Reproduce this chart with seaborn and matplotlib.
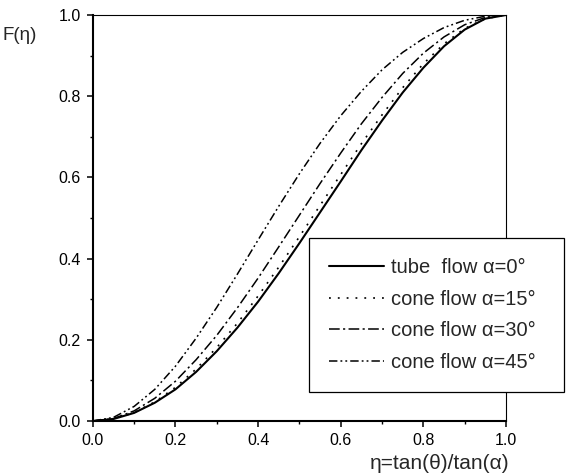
import pandas as pd
import seaborn as sns
import matplotlib
matplotlib.use("Agg")
import matplotlib.pyplot as plt
from matplotlib.ticker import MultipleLocator

# values, eta = 0 .. 1 in steps of 0.05
eta = [0.0, 0.05, 0.1, 0.15, 0.2, 0.25, 0.3, 0.35, 0.4, 0.45, 0.5,
       0.55, 0.6, 0.65, 0.7, 0.75, 0.8, 0.85, 0.9, 0.95, 1.0]
f_tube = [0.0, 0.005, 0.020, 0.045, 0.078, 0.121, 0.172, 0.230, 0.294, 0.364, 0.438,
          0.514, 0.590, 0.667, 0.740, 0.809, 0.870, 0.923, 0.964, 0.991, 1.0]
f_cone15 = [0.0, 0.005, 0.021, 0.047, 0.083, 0.128, 0.181, 0.241, 0.308, 0.379, 0.454,
            0.531, 0.607, 0.683, 0.754, 0.821, 0.880, 0.929, 0.967, 0.991, 1.0]
f_cone30 = [0.0, 0.006, 0.025, 0.056, 0.098, 0.151, 0.211, 0.279, 0.352, 0.429, 0.507,
            0.585, 0.660, 0.732, 0.797, 0.856, 0.906, 0.946, 0.976, 0.994, 1.0]
f_cone45 = [0.0, 0.009, 0.036, 0.078, 0.135, 0.204, 0.280, 0.362, 0.446, 0.529, 0.609,
            0.684, 0.752, 0.812, 0.865, 0.908, 0.942, 0.969, 0.987, 0.997, 1.0]
labels = ["tube  flow α=0°", "cone flow α=15°", "cone flow α=30°", "cone flow α=45°"]

sns.set_theme(style="ticks")
plt.rcParams["font.family"] = ["Liberation Sans", "DejaVu Sans"]

df = pd.DataFrame({"eta": eta, labels[0]: f_tube, labels[1]: f_cone15,
                   labels[2]: f_cone30, labels[3]: f_cone45})

fig = plt.figure(figsize=(5.66, 4.76), dpi=100)
ax = fig.add_axes([0.164, 0.1155, 0.730, 0.853])

styles = ["-", (0, (1.1, 4.2)), (0, (7, 2.2, 1.4, 2.2)), (0, (5.5, 2, 1.2, 2, 1.2, 2))]
widths = [1.5, 1.2, 1.1, 1.1]
for lab, ls, lw in zip(labels, styles, widths):
    sns.lineplot(data=df, x="eta", y=lab, ax=ax, color="black",
                 linestyle=ls, linewidth=lw, label=lab)

ax.set_xlim(0, 1)
ax.set_ylim(0, 1)
ax.xaxis.set_major_locator(MultipleLocator(0.2))
ax.xaxis.set_minor_locator(MultipleLocator(0.1))
ax.yaxis.set_major_locator(MultipleLocator(0.2))
ax.yaxis.set_minor_locator(MultipleLocator(0.1))
ax.set_xticklabels([f"{v:.1f}" for v in ax.get_xticks()])
ax.set_yticklabels([f"{v:.1f}" for v in ax.get_yticks()])
ax.tick_params(which="major", direction="out", length=4.3, width=1.1,
               labelsize=11.5, color="black", labelcolor="black", pad=4.5)
ax.tick_params(which="minor", direction="out", length=2.5, width=1.0, color="black")
ax.tick_params(top=False, right=False, which="both")

for side in ["left", "bottom"]:
    ax.spines[side].set_linewidth(1.5)
for side in ["top", "right"]:
    ax.spines[side].set_visible(True)
    ax.spines[side].set_linewidth(0.8)
for sp in ax.spines.values():
    sp.set_color("black")

ax.set_xlabel("")
ax.set_ylabel("")
fig.text(0.004, 0.926, "F(η)", ha="left", va="center", fontsize=13.5)
fig.text(0.777, 0.027, "η=tan(θ)/tan(α)", ha="center", va="center", fontsize=15)

leg = ax.legend(loc="upper left", bbox_to_anchor=(0.546, 0.5, 0.45, 0.0),
                bbox_transform=fig.transFigure, mode="expand",
                fontsize=14.5, frameon=True, fancybox=False, shadow=False,
                handlelength=2.7, handletextpad=0.35, borderpad=1.0,
                labelspacing=0.62, borderaxespad=0)
leg.get_frame().set_edgecolor("black")
leg.get_frame().set_linewidth(0.9)
leg.get_frame().set_alpha(1)
leg.set_clip_on(False)

fig.savefig("out.png", dpi=100, facecolor="white")
